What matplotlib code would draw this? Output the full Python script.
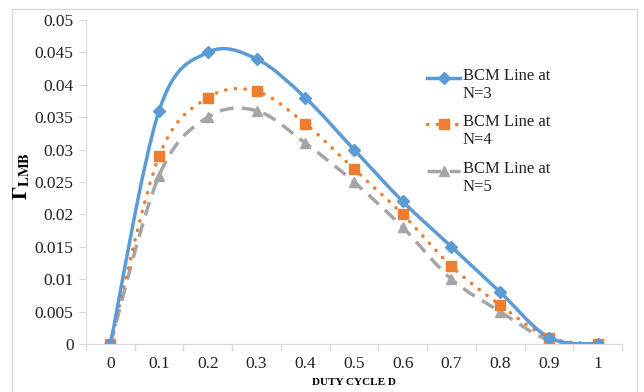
import numpy as np
import matplotlib
matplotlib.use("Agg")
import matplotlib.pyplot as plt
from matplotlib.path import Path
from matplotlib.patches import PathPatch, Rectangle
from matplotlib.lines import Line2D

plt.rcParams['font.family'] = ['Liberation Serif', 'DejaVu Serif']
plt.rcParams['mathtext.fontset'] = 'stix'

duty = [0, 0.1, 0.2, 0.3, 0.4, 0.5, 0.6, 0.7, 0.8, 0.9, 1.0]
n3 = [0, 0.036, 0.045, 0.044, 0.038, 0.030, 0.022, 0.015, 0.008, 0.001, 0]
n4 = [0, 0.029, 0.038, 0.039, 0.034, 0.027, 0.020, 0.012, 0.006, 0.001, 0]
n5 = [0, 0.026, 0.035, 0.036, 0.031, 0.025, 0.018, 0.010, 0.005, 0.0006, 0]
labels = ['BCM Line at\nN=3', 'BCM Line at\nN=4', 'BCM Line at\nN=5']

blue = '#5B9BD5'
orange = '#ED7D31'
grey = '#A5A5A5'


def smooth_path(x, y):
    # excel style smoothed line: cubic bezier, catmull-rom control points
    p = np.column_stack([x, y])
    ext = np.vstack([p[0], p, p[-1]])
    verts = [p[0]]
    codes = [Path.MOVETO]
    for i in range(len(p) - 1):
        p0, p1, p2, p3 = ext[i], ext[i + 1], ext[i + 2], ext[i + 3]
        c1 = p1 + (p2 - p0) / 6
        c2 = p2 - (p3 - p1) / 6
        verts += [c1, c2, p2]
        codes += [Path.CURVE4] * 3
    return Path(verts, codes)


fig = plt.figure(figsize=(6.44, 3.92), dpi=100)
ax = fig.add_axes([86 / 644, 48 / 392, 536 / 644, 324 / 392])

series = [
    (n3, blue, '-', 'D', 6, 2.5),
    (n4, orange, (0, (0.1, 2.7)), 's', 7, 2.5),
    (n5, grey, (0, (4, 2.4)), '^', 7, 2.5),
]
for ys, c, ls, mk, ms, lw in reversed(series):
    patch = PathPatch(smooth_path(duty, ys), facecolor='none', edgecolor=c,
                      lw=lw, linestyle=ls, capstyle='round' if mk == 's' else 'butt')
    ax.add_patch(patch)
    ax.plot(duty, ys, linestyle='none', marker=mk, ms=ms, color=c, mec=c)

ax.set_xlim(-0.05, 1.05)
ax.set_ylim(0, 0.05)
ax.set_yticks(np.arange(0, 0.0501, 0.005))
ax.set_yticklabels(['0', '0.005', '0.01', '0.015', '0.02', '0.025', '0.03',
                    '0.035', '0.04', '0.045', '0.05'])
ax.set_xticks(duty)
ax.set_xticklabels(['0', '0.1', '0.2', '0.3', '0.4', '0.5', '0.6', '0.7',
                    '0.8', '0.9', '1'])
ax.set_xticks(np.arange(-0.05, 1.06, 0.1), minor=True)
ax.tick_params(axis='x', which='major', length=0, labelsize=12.5, pad=9, colors='#222222')
ax.tick_params(axis='x', which='minor', length=5, color='#D9D9D9', width=1)
ax.tick_params(axis='y', length=5, color='#D9D9D9', labelsize=12.5, pad=4, labelcolor='#222222')

for s in ['top', 'right']:
    ax.spines[s].set_visible(False)
for s in ['left', 'bottom']:
    ax.spines[s].set_color('#D9D9D9')

ax.set_xlabel('DUTY CYCLE D', fontsize=8, fontweight='bold', labelpad=4)
fig.text(22 / 644, 1 - 176 / 392, r'$\mathbf{\Gamma}_{\mathbf{LMB}}$', rotation=90,
         fontsize=15, ha='center', va='center')

# legend drawn by hand so the handle sits on the first text line
rows = [78, 124, 171]
for (ys, c, ls, mk, ms, lw), lab, yr in zip(series, labels, rows):
    yf = 1 - yr / 392
    fig.add_artist(Line2D([427 / 644, 460 / 644], [yf, yf], color=c, lw=lw,
                          linestyle=ls, dash_capstyle='round' if mk == 's' else 'butt'))
    fig.add_artist(Line2D([443.5 / 644], [yf], marker=mk, ms=ms, color=c, mec=c))
    fig.text(463 / 644, yf + 10 / 392, lab, fontsize=12, va='top', ha='left',
             color='#222222', linespacing=1.15)

fig.add_artist(Rectangle((12 / 644, -0.05), (637 - 12) / 644, 1 - 9 / 392 + 0.05,
                         transform=fig.transFigure, fill=False, ec='#D9D9D9', lw=1))

fig.savefig('out.png', dpi=100)
